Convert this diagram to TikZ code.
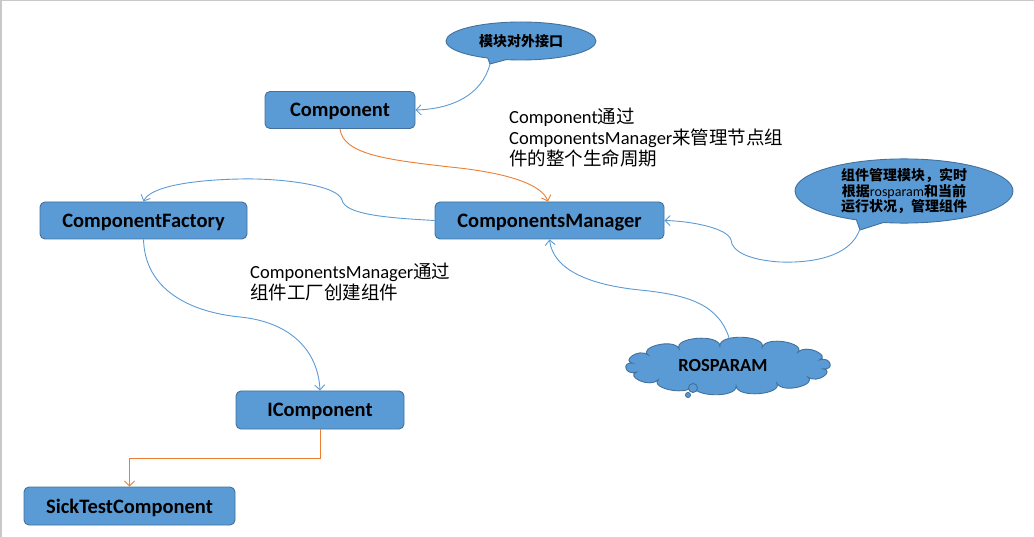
\documentclass[tikz,border=0pt]{standalone}
\usepackage{fontspec}
\setmainfont{Carlito}
\newfontfamily\cjk{Noto Sans CJK SC}
\usetikzlibrary{arrows.meta,shapes.callouts}
\definecolor{boxfill}{HTML}{5B9BD5}
\definecolor{boxline}{HTML}{41719C}
\definecolor{lineblue}{HTML}{5B9BD5}
\definecolor{lineorange}{HTML}{ED7D31}
\definecolor{frameg}{HTML}{C8C8C8}
\newcommand\zhtxt[1]{{\cjk #1}}
\tikzset{
  classbox/.style={draw=boxline, fill=boxfill, line width=0.9pt, rounded corners=5pt,
    font=\fontsize{20.5}{24}\selectfont\bfseries, text=black, inner sep=0pt,
    text height=16.5pt, text depth=2.5pt},
  notetext/.style={align=left, inner sep=0pt, text=black, font=\fontsize{18.5}{21}\selectfont},
  bubble/.style={draw=boxline, fill=boxfill, line width=0.9pt, text=black, inner sep=0pt,
    font=\fontsize{14}{15.5}\selectfont\bfseries, align=center},
  cloudshape/.style={draw=boxline, fill=boxfill, line width=0.9pt},
  bluelink/.style={draw=lineblue, line width=0.9pt, -{Straight Barb[length=5pt,width=10pt]}},
  orangelink/.style={draw=lineorange, line width=0.9pt, -{Straight Barb[length=5pt,width=10pt]}},
}
\begin{document}
\begin{tikzpicture}[x=1pt,y=-1pt]
\useasboundingbox (0,0) rectangle (1034,537);
\draw[frameg, line width=3pt] (0,537) -- (0,0) -- (1034,0);

% class boxes
\node[classbox, minimum width=150pt, minimum height=37pt] (comp) at (340,110) {Component};
\node[classbox, minimum width=207pt, minimum height=37pt] (fact) at (143.5,220.5) {ComponentFactory};
\node[classbox, minimum width=229pt, minimum height=37pt] (mgr) at (549.5,220.5) {ComponentsManager};
\node[classbox, minimum width=168pt, minimum height=38pt] (icomp) at (320,410) {IComponent};
\node[classbox, minimum width=211pt, minimum height=38pt] (sick) at (129.5,506) {SickTestComponent};

% callouts
\node[bubble, ellipse callout, minimum width=150pt, minimum height=38pt,
  callout absolute pointer={(490,64)}] (api) at (521,41) {\zhtxt{模块对外接口}};
\coordinate (apitip) at (490,64);
\node[bubble, ellipse callout, minimum width=218pt, minimum height=58pt,
  callout absolute pointer={(860,230)}] (mgrnote) at (904,191)
  {\zhtxt{组件管理模块，实时}\\\zhtxt{根据}{\mdseries rosparam}\zhtxt{和当前}\\\zhtxt{运行状况，管理组件}};
\coordinate (mgrtip) at (860,229);

% cloud (thought bubble)
\draw[cloudshape] ({728+96*cos(8)},{366+20*sin(8)})
  \foreach \i [evaluate=\i as \a using \i*360/14+8, evaluate=\i as \b using (\i+1)*360/14+8] in {0,...,13}{
    .. controls ({728+108*cos(\a)},{366+33*sin(\a)}) and ({728+108*cos(\b)},{366+33*sin(\b)})
    .. ({728+96*cos(\b)},{366+20*sin(\b)})
  } -- cycle;
\node[font=\fontsize{18.5}{20}\selectfont\bfseries, text=black, inner sep=0pt] (ros) at (723,365) {ROSPARAM};
\node[bubble, circle, minimum size=9pt] (rosb1) at (693,388) {};
\node[bubble, circle, minimum size=5pt] (rosb2) at (688,395) {};
\coordinate (rostop) at (730,341);

% annotations
\node[notetext, anchor=base west] (note1) at (509,166)
  {Component\zhtxt{通过}\\ComponentsManager\zhtxt{来管理节点组}\\\zhtxt{件的整个生命周期}};
\node[notetext, anchor=base west] (note2) at (250,300)
  {ComponentsManager\zhtxt{通过}\\\zhtxt{组件工厂创建组件}};

% connectors
\draw[bluelink] (apitip) .. controls (482,95) and (452,109) .. (comp.east);
\draw[orangelink] (comp.south) .. controls (343,155) and (390,160) .. (450,167)
  .. controls (510,173) and (542,185) .. ([xshift=-1.5pt]mgr.north);
\draw[bluelink] (mgr.west) .. controls (390,218) and (345,215) .. (342,200)
  .. controls (338,185) and (280,178) .. (240,179)
  .. controls (190,180) and (150,187) .. (fact.north);
\draw[bluelink] (fact.south) .. controls (145,290) and (190,312) .. (240,317)
  .. controls (290,322) and (318,350) .. (icomp.north);
\draw[orangelink] (icomp.south) -- ++(0,29) -| (sick.north);
\draw[bluelink] (rostop) .. controls (720,305) and (690,295) .. (640,290)
  .. controls (590,285) and (553,270) .. (mgr.south);
\draw[bluelink] (mgrtip) .. controls (850,258) and (810,263) .. (780,262)
  .. controls (750,260) and (732,252) .. (731,240)
  .. controls (728,228) and (690,221) .. (mgr.east);
\end{tikzpicture}
\end{document}
